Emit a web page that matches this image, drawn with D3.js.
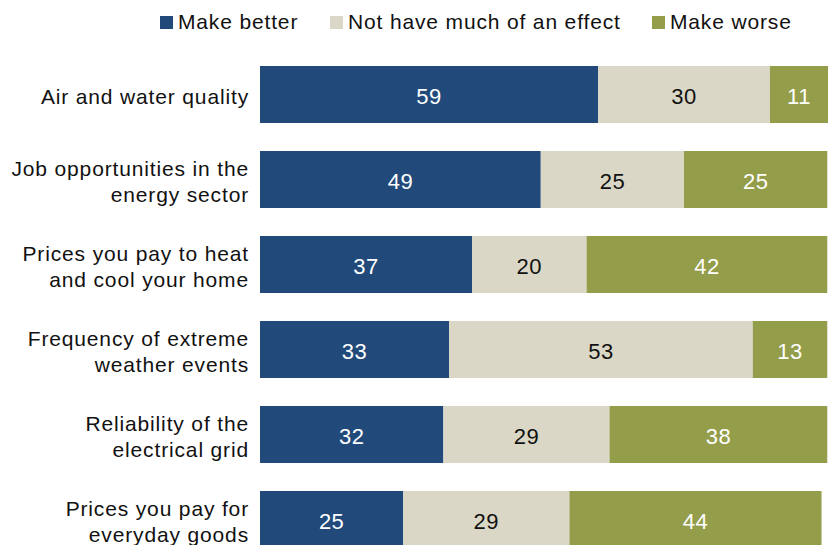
<!DOCTYPE html>
<html>
<head>
<meta charset="utf-8">
<script src="https://cdn.jsdelivr.net/npm/d3@7"></script>
<style>
  html, body { margin: 0; padding: 0; background: #fff; }
  svg { display: block; font-family: "Liberation Sans", Arial, sans-serif; }
</style>
</head>
<body>
<svg id="chart" width="828" height="545"></svg>
<script>
const categories = [
  ["Air and water quality"],
  ["Job opportunities in the", "energy sector"],
  ["Prices you pay to heat", "and cool your home"],
  ["Frequency of extreme", "weather events"],
  ["Reliability of the", "electrical grid"],
  ["Prices you pay for", "everyday goods"]
];
const seriesNames = ["Make better", "Not have much of an effect", "Make worse"];
const makeBetter = [59, 49, 37, 33, 32, 25];
const noEffect   = [30, 25, 20, 53, 29, 29];
const makeWorse  = [11, 25, 42, 13, 38, 44];
const seriesValues = [makeBetter, noEffect, makeWorse];

const colors = ["#214a7b", "#dad7c6", "#949d4a"];
const textColors = ["#ffffff", "#111111", "#ffffff"];

const svg = d3.select("#chart");
const W = 828, H = 545;

const x = d3.scaleLinear().domain([0, 100]).range([260, 833]);
const y = d3.scaleBand().domain(d3.range(categories.length)).range([66 - 14, 66 - 14 + 85 * 6]).paddingInner(28 / 85).paddingOuter(14 / 85);

const rows = categories.map((c, i) => {
  let acc = 0;
  const segs = seriesValues.map((s, k) => {
    const seg = { k, v: s[i], x0: acc, x1: acc + s[i] };
    acc += s[i];
    return seg;
  });
  return { i, label: c, segs };
});

const g = svg.append("g");
const rowG = g.selectAll("g.row").data(rows).join("g").attr("class", "row");

rowG.selectAll("rect").data(d => d.segs.map(s => ({ ...s, i: d.i }))).join("rect")
  .attr("x", d => x(d.x0))
  .attr("y", d => y(d.i))
  .attr("width", d => x(d.x1) - x(d.x0))
  .attr("height", y.bandwidth())
  .attr("fill", d => colors[d.k]);

rowG.selectAll("text.val").data(d => d.segs.map(s => ({ ...s, i: d.i }))).join("text")
  .attr("class", "val")
  .attr("x", d => (x(d.x0) + Math.min(x(d.x1), W)) / 2)
  .attr("y", d => y(d.i) + y.bandwidth() / 2 + 9)
  .attr("text-anchor", "middle")
  .attr("font-size", 22)
  .attr("letter-spacing", 0.5)
  .attr("fill", d => textColors[d.k])
  .text(d => d.v);

rowG.each(function (d) {
  const cy = y(d.i) + y.bandwidth() / 2;
  const t = d3.select(this).append("text")
    .attr("text-anchor", "end")
    .attr("font-size", 21)
    .attr("letter-spacing", 0.85)
    .attr("fill", "#111111");
  if (d.label.length === 1) {
    t.append("tspan").attr("x", 249).attr("y", cy + 9).text(d.label[0]);
  } else {
    t.append("tspan").attr("x", 249).attr("y", cy - 4).text(d.label[0]);
    t.append("tspan").attr("x", 249).attr("y", cy + 22).text(d.label[1]);
  }
});

const legendX = [160, 330, 652];
const lg = svg.append("g").selectAll("g").data(seriesNames).join("g")
  .attr("transform", (d, i) => `translate(${legendX[i]},0)`);
lg.append("rect").attr("x", 0).attr("y", 16).attr("width", 13).attr("height", 13)
  .attr("fill", (d, i) => colors[i]);
lg.append("text").attr("x", 18).attr("y", 29).attr("font-size", 21)
  .attr("letter-spacing", 0.85).attr("fill", "#111111")
  .text(d => d);
</script>
</body>
</html>
